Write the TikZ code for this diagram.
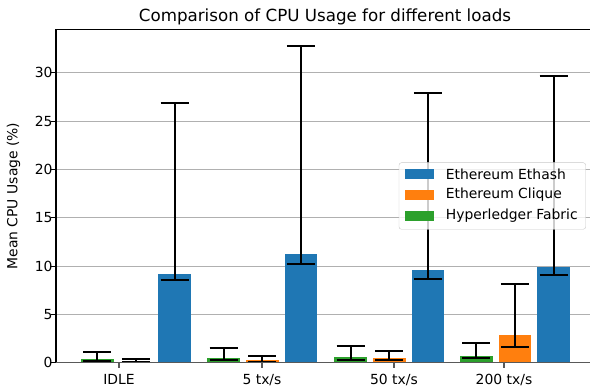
\documentclass[tikz,border=0pt]{standalone}
\usepackage{fontspec}
\setmainfont{DejaVu Sans}
\definecolor{ethash}{HTML}{1F77B4}
\definecolor{clique}{HTML}{FF7F0E}
\definecolor{fabric}{HTML}{2CA02C}
\definecolor{rejilla}{HTML}{B0B0B0}

\begin{document}
\begin{tikzpicture}[x=1pt, y=1pt, font=\fontsize{13.9}{16}\selectfont]
    \useasboundingbox (0,0) rectangle (590,390);

    % Titulo y etiquetas
    \node[anchor=base, font=\fontsize{16.7}{19}\selectfont] (titulo) at (325,368.3) {Comparison of CPU Usage for different loads};
    \node[rotate=90] (ylabel) at (13.5,194) {Mean CPU Usage (\%)};
    \node[anchor=base] (idle) at (119,5) {IDLE};
    \node[anchor=base] (tx5) at (262,5) {5 tx/s};
    \node[anchor=base] (tx50) at (394,5) {50 tx/s};
    \node[anchor=base] (tx200) at (504,5) {200 tx/s};

    \begin{scope}[shift={(0,27.3)}, y=9.66pt]
    % Rejilla y marcas del eje y
    \foreach \v in {5,10,...,30}
        \draw[rejilla, line width=1.1] (56,\v) -- (590,\v);
    \foreach \v in {0,5,...,30}
        \draw[black, line width=1.1] (51,\v) -- (56,\v) node[anchor=east, inner sep=3pt] (y\v) {\v};

    % Barras
    % IDLE
    \fill[fabric] (81,0) rectangle (113.5,0.35);
    \fill[clique] (119.7,0) rectangle (152.2,0.1);
    \fill[ethash] (158.3,0) rectangle (190.8,9.18);
    % 5 tx/s
    \fill[fabric] (207.3,0) rectangle (239.8,0.49);
    \fill[clique] (246,0) rectangle (278.5,0.25);
    \fill[ethash] (284.6,0) rectangle (317.1,11.25);
    % 50 tx/s
    \fill[fabric] (334.3,0) rectangle (366.8,0.59);
    \fill[clique] (373,0) rectangle (405.5,0.49);
    \fill[ethash] (411.6,0) rectangle (444.1,9.6);
    % 200 tx/s
    \fill[fabric] (460,0) rectangle (492.5,0.66);
    \fill[clique] (498.7,0) rectangle (531.2,2.87);
    \fill[ethash] (537.3,0) rectangle (569.8,9.9);

    % Barras de error
    \foreach \x/\lo/\hi in {97.25/0.18/1.14, 135.95/0.07/0.41, 174.55/8.56/26.85,
                            223.55/0.25/1.49, 262.25/0.07/0.69, 300.85/10.25/32.8,
                            350.55/0.31/1.73, 389.25/0.25/1.24, 427.85/8.7/27.9,
                            476.25/0.49/2.07, 514.95/1.66/8.1, 553.55/9.08/29.67} {
        \draw[black, line width=1.9] (\x,\lo) -- (\x,\hi);
        \draw[black, line width=1.9] (\x-14,\lo) -- (\x+14,\lo);
        \draw[black, line width=1.9] (\x-14,\hi) -- (\x+14,\hi);
    }

    % Ejes
    \draw[black, line width=1.1] (56,0) -- (56,34.5) -- (590,34.5);
    \draw[black!65, line width=1.6] (56,0) -- (590,0);
    \foreach \x in {119,262,394,504}
        \draw[black!65, line width=1.1] (\x,0) -- (\x,-0.52);
    \end{scope}

    % Leyenda
    \draw[rejilla!70, fill=white, fill opacity=0.8, rounded corners=2.5] (399,160.7) rectangle (585.7,227.3);
    \fill[ethash] (405,211) rectangle (434,221);
    \fill[clique] (405,190) rectangle (434,200);
    \fill[fabric] (405,169.3) rectangle (434,179.3);
    \node[anchor=west, inner sep=0] (ley1) at (445.7,216) {Ethereum Ethash};
    \node[anchor=west, inner sep=0] (ley2) at (445.7,195) {Ethereum Clique};
    \node[anchor=west, inner sep=0] (ley3) at (445.7,174.3) {Hyperledger Fabric};
\end{tikzpicture}
\end{document}
